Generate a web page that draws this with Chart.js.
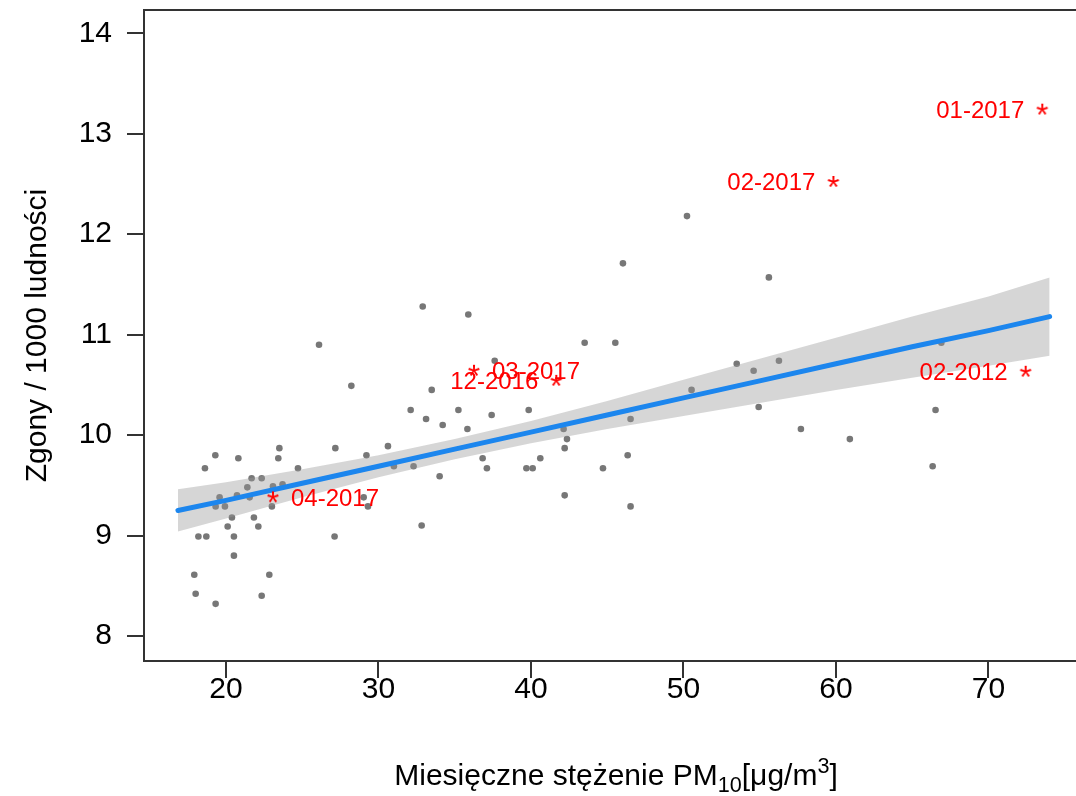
<!DOCTYPE html>
<html><head><meta charset="utf-8">
<script src="https://cdn.jsdelivr.net/npm/chart.js@4.4.0/dist/chart.umd.min.js"></script>
<style>
html,body{margin:0;padding:0;background:#fff;overflow:hidden;width:1076px;height:796px}
#wrap{width:1076px;height:796px}
</style></head>
<body><div id="wrap"><canvas id="c" width="1076" height="796"></canvas></div>
<script>
// monthly PM10 concentration (x) and deaths per 1000 (y)
const pmX = [19.30,18.62,20.81,23.50,23.43,27.17,24.72,21.68,22.34,21.40,19.58,20.72,23.08,23.71,19.32,19.93,21.55,23.01,20.39,21.83,20.11,22.12,18.19,18.71,20.52,27.12,20.52,17.92,22.84,18.01,22.34,19.32,
  32.90,35.89,26.10,37.62,28.22,33.49,32.11,33.12,35.24,34.21,35.83,37.42,30.62,29.21,31.01,32.30,36.83,37.11,34.01,29.03,29.31,32.83,39.85,39.70,
  50.23,46.03,43.52,45.53,53.49,50.53,46.53,42.14,42.36,42.21,40.61,46.34,40.11,44.72,42.21,46.53,
  55.60,54.60,56.26,54.93,66.91,57.70,60.91,66.53,66.34];
const deathsY = [9.80,9.67,9.77,9.87,9.77,9.87,9.67,9.57,9.57,9.48,9.38,9.40,9.49,9.51,9.29,9.29,9.38,9.29,9.18,9.18,9.09,9.09,8.99,8.99,8.99,8.99,8.80,8.61,8.61,8.42,8.40,8.32,
  11.28,11.20,10.90,10.74,10.49,10.45,10.25,10.16,10.25,10.10,10.06,10.20,9.89,9.80,9.69,9.69,9.77,9.67,9.59,9.38,9.29,9.10,10.25,9.67,
  12.18,11.71,10.92,10.92,10.71,10.45,10.16,10.06,9.96,9.87,9.77,9.80,9.67,9.67,9.40,9.29,
  11.57,10.64,10.74,10.28,10.92,10.06,9.96,10.25,9.69];

// linear fit and its confidence band
const fitX      = [16.85, 20, 25, 30, 35, 40, 45, 50, 55, 60, 65, 70, 74.01];
const fitY      = [9.25, 9.35, 9.52, 9.69, 9.86, 10.03, 10.20, 10.37, 10.54, 10.71, 10.88, 11.04, 11.18];
const bandUpper = [9.46, 9.53, 9.66, 9.80, 9.96, 10.14, 10.34, 10.55, 10.76, 10.97, 11.18, 11.38, 11.57];
const bandLower = [9.04, 9.17, 9.38, 9.58, 9.76, 9.92, 10.06, 10.19, 10.32, 10.45, 10.57, 10.69, 10.79];

// highlighted months
const outlierLabels = ['01-2017','02-2017','02-2012','12-2016','03-2017','04-2017'];
const outlierX = [73.53, 59.83, 72.44, 41.66, 36.26, 23.08];
const outlierY = [13.24, 12.52, 10.63, 10.54, 10.64, 9.38];
const labelSide = ['left','left','left','left','right','right'];

const xTicks = [20, 30, 40, 50, 60, 70];
const yTicks = [8, 9, 10, 11, 12, 13, 14];

const FONT = "'Liberation Sans', Arial, sans-serif";
const AXIS_COLOR = '#333333';

function pts(xs, ys){ return xs.map((x,i)=>({x:x, y:ys[i]})); }

// red asterisk marker as a point style image
function makeStar(){
  const c = document.createElement('canvas');
  c.width = 30; c.height = 30;
  const g = c.getContext('2d');
  g.fillStyle = '#ff0000';
  g.font = '32px ' + FONT;
  g.textAlign = 'center';
  const m = g.measureText('*');
  const a = m.actualBoundingBoxAscent, d = m.actualBoundingBoxDescent;
  g.textBaseline = 'alphabetic';
  g.fillText('*', 15, 15 + (a - d) / 2);
  return c;
}
const starImg = makeStar();

// plot frame: left, top and bottom sides (right side lies beyond the picture)
const boxPlugin = {
  id: 'box',
  afterDraw(chart){
    const {ctx, chartArea:a} = chart;
    ctx.save();
    ctx.strokeStyle = AXIS_COLOR; ctx.lineWidth = 2;
    ctx.beginPath();
    ctx.moveTo(chart.width, a.top);
    ctx.lineTo(a.left, a.top);
    ctx.lineTo(a.left, a.bottom);
    ctx.lineTo(chart.width, a.bottom);
    ctx.stroke();
    ctx.restore();
  }
};

const labelPlugin = {
  id: 'outlierLabels',
  afterDatasetsDraw(chart){
    const meta = chart.getDatasetMeta(0);
    const ctx = chart.ctx;
    ctx.save();
    ctx.font = '24px ' + FONT;
    ctx.fillStyle = '#ff0000';
    ctx.textBaseline = 'alphabetic';
    meta.data.forEach((el, i) => {
      const side = labelSide[i];
      ctx.textAlign = side === 'left' ? 'right' : 'left';
      const dx = side === 'left' ? -18 : 18;
      ctx.fillText(outlierLabels[i], el.x + dx, el.y + 8.5);
    });
    ctx.restore();
  }
};

const xTitleParts = [
  {t:'Miesięczne stężenie PM', s:1, dy:0},
  {t:'10', s:0.72, dy:7},
  {t:'[μg/m', s:1, dy:0},
  {t:'3', s:0.72, dy:-12},
  {t:']', s:1, dy:0}
];
const xTitlePlugin = {
  id: 'xTitle',
  afterDraw(chart){
    const {ctx, chartArea:a} = chart;
    const size = 30;
    ctx.save();
    ctx.fillStyle = '#000';
    ctx.textBaseline = 'alphabetic';
    ctx.textAlign = 'left';
    let total = 0;
    xTitleParts.forEach(p => { ctx.font = (size*p.s) + 'px ' + FONT; total += ctx.measureText(p.t).width; });
    // centred on the full plot region, whose right end lies just past the picture
    let x = (a.left + a.right) / 2 + 6 - total / 2;
    const base = a.bottom + 124;
    xTitleParts.forEach(p => {
      ctx.font = (size*p.s) + 'px ' + FONT;
      ctx.fillText(p.t, x, base + p.dy);
      x += ctx.measureText(p.t).width;
    });
    ctx.restore();
  }
};

new Chart(document.getElementById('c'), {
  type: 'scatter',
  data: {
    datasets: [
      { // highlighted months
        data: pts(outlierX, outlierY),
        pointStyle: starImg, pointRadius: 15, order: 0
      },
      { // upper band edge, filled down to lower edge
        data: pts(fitX, bandUpper), showLine: true, pointRadius: 0,
        borderColor: 'rgba(0,0,0,0)', borderWidth: 1,
        fill: '+1', backgroundColor: 'rgba(153,153,153,0.4)', order: 2
      },
      {
        data: pts(fitX, bandLower), showLine: true, pointRadius: 0,
        borderColor: 'rgba(0,0,0,0)', borderWidth: 1, fill: false, order: 2
      },
      { // fitted line
        data: pts(fitX, fitY), showLine: true, pointRadius: 0,
        borderColor: '#1C86EE', borderWidth: 5, borderCapStyle: 'round', fill: false, order: 1
      },
      { // monthly observations
        data: pts(pmX, deathsY), pointRadius: 3.3, pointBackgroundColor: '#777777',
        pointBorderWidth: 0, order: 3
      }
    ]
  },
  options: {
    responsive: false, animation: false, devicePixelRatio: 1,
    layout: { autoPadding: false, padding: { top: 10, right: 0, left: 0, bottom: 0 } },
    plugins: { legend: {display:false}, tooltip: {enabled:false} },
    scales: {
      x: {
        type: 'linear', min: 14.623, max: 75.74,
        afterBuildTicks: s => { s.ticks = xTicks.map(v => ({value: v})); },
        afterFit: s => { s.height = 135; s.paddingLeft = 0; s.paddingRight = 0; },
        grid: { drawOnChartArea: false, drawTicks: true, tickLength: 17, color: AXIS_COLOR, lineWidth: 2 },
        border: { display: false },
        ticks: { font: {family: FONT, size: 30}, color: '#000', padding: -6, maxRotation: 0, autoSkip: false }
      },
      y: {
        type: 'linear', min: 7.751, max: 14.232,
        afterBuildTicks: s => { s.ticks = yTicks.map(v => ({value: v})); },
        afterFit: s => { s.width = 144; s.paddingTop = 0; s.paddingBottom = 0; },
        grid: { drawOnChartArea: false, drawTicks: true, tickLength: 17, color: AXIS_COLOR, lineWidth: 2 },
        border: { display: false },
        ticks: { font: {family: FONT, size: 30}, color: '#000', padding: 15, autoSkip: false },
        title: { display: true, text: 'Zgony / 1000 ludności', color: '#000',
                 font: {family: FONT, size: 30}, padding: {top: 20, bottom: 0} }
      }
    }
  },
  plugins: [boxPlugin, labelPlugin, xTitlePlugin]
});
</script>
</body></html>
